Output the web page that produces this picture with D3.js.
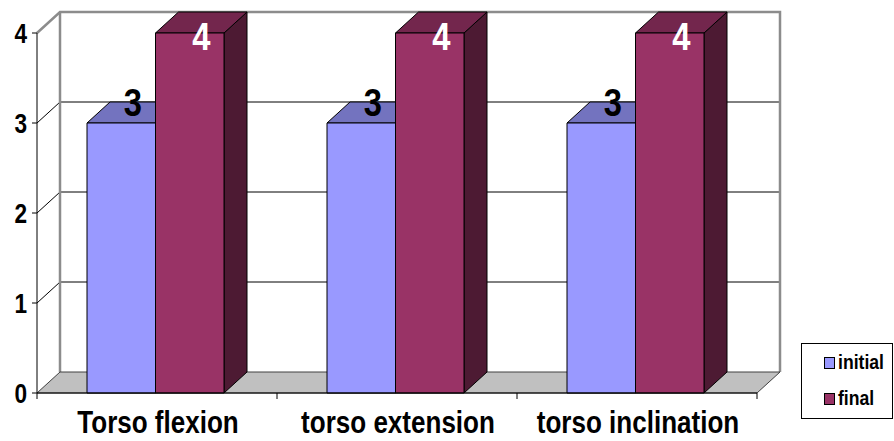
<!DOCTYPE html>
<html>
<head>
<meta charset="utf-8">
<script src="https://cdn.jsdelivr.net/npm/d3@7"></script>
<style>
  html, body { margin: 0; padding: 0; background: #fff; }
  svg { display: block; }
  text { font-family: "Liberation Sans", Arial, sans-serif; font-weight: bold; }
</style>
</head>
<body>
<svg id="chart" width="894" height="441"></svg>
<script>
// Chart data
const categories = ["Torso flexion", "torso extension", "torso inclination"];
const seriesNames = ["initial", "final"];
const initialValues = [3, 3, 3];
const finalValues = [4, 4, 4];
const yTicks = [0, 1, 2, 3, 4];

// Face colours per series: front, top, side
const palette = {
  initial: { front: "#9999FF", top: "#7373BF", side: "#4D4D80" },
  final:   { front: "#993366", top: "#73264D", side: "#4D1A33" }
};

const seriesValues = { initial: initialValues, final: finalValues };

const svg = d3.select("#chart");

// Condensed bold text (horizontal squeeze gives a narrow face)
const NARROW = 0.84;
function label(parent, px, py, str, size, anchor, fill) {
  return parent.append("text")
    .attr("transform", `translate(${px},${py}) scale(${NARROW},1)`)
    .attr("text-anchor", anchor)
    .attr("font-size", size)
    .attr("fill", fill || "#000")
    .text(str);
}

// 3D depth offset for the back plane
const dx = 23, dy = -21;

const x = d3.scaleBand().domain(categories).range([37, 757]);
const xs = d3.scaleBand().domain(seriesNames).range([50, 187]);
const y = d3.scaleLinear().domain([0, 4]).range([393, 33]);

const x0 = x.range()[0], x1 = x.range()[1];
const yb = v => y(v) + dy;           // back-plane y
const line = d3.line();

// Back wall
svg.append("rect")
  .attr("x", x0 + dx).attr("y", yb(4))
  .attr("width", x1 - x0).attr("height", y(0) - y(4))
  .attr("fill", "#fff");

// Gridlines on back wall and side wall
yTicks.filter(v => v > 0 && v < 4).forEach(v => {
  svg.append("path")
    .attr("d", line([[x0, y(v)], [x0 + dx, yb(v)], [x1 + dx, yb(v)]]))
    .attr("fill", "none").attr("stroke", "#000").attr("stroke-width", 1);
});

// Wall frame
svg.append("path")
  .attr("d", line([[x0, y(4)], [x0 + dx, yb(4)], [x1 + dx, yb(4)], [x1 + dx, yb(0)]]))
  .attr("fill", "none").attr("stroke", "#8c8c8c").attr("stroke-width", 2.5);
svg.append("path")
  .attr("d", line([[x0 + dx, yb(4)], [x0 + dx, yb(0)]]))
  .attr("fill", "none").attr("stroke", "#8c8c8c").attr("stroke-width", 2.5);

// Floor
svg.append("path")
  .attr("d", line([[x0, y(0)], [x1, y(0)], [x1 + dx, yb(0)], [x0 + dx, yb(0)]]) + "Z")
  .attr("fill", "#C0C0C0").attr("stroke", "#404040").attr("stroke-width", 1);

// Bars
categories.forEach((cat, i) => {
  seriesNames.forEach(s => {
    const v = seriesValues[s][i];
    const bx = x(cat) + xs(s), bw = xs.bandwidth();
    const top = y(v), base = y(0);
    const c = palette[s];
    const g = svg.append("g").attr("stroke", "#000").attr("stroke-width", 1).attr("stroke-linejoin", "round");
    g.append("path")
      .attr("d", line([[bx + bw, top], [bx + bw + dx, top + dy], [bx + bw + dx, base + dy], [bx + bw, base]]) + "Z")
      .attr("fill", c.side);
    g.append("path")
      .attr("d", line([[bx, top], [bx + dx, top + dy], [bx + bw + dx, top + dy], [bx + bw, top]]) + "Z")
      .attr("fill", c.top);
    g.append("rect")
      .attr("x", bx).attr("y", top).attr("width", bw).attr("height", base - top)
      .attr("fill", c.front);
  });
});

// Data labels (pushed inside the bar, in white, when there is no room above)
categories.forEach((cat, i) => {
  seriesNames.forEach(s => {
    const v = seriesValues[s][i];
    const cx = x(cat) + xs(s) + xs.bandwidth() / 2 + dx / 2;
    let base = y(v) - 7;
    const minBase = 50;
    const inside = base < minBase;
    if (inside) base = minBase;
    label(svg, cx, base, v, 39, "middle", inside ? "#fff" : "#000");
  });
});

// Value axis
svg.append("path")
  .attr("d", line([[x0, y(0)], [x0, y(4)]]))
  .attr("stroke", "#000").attr("fill", "none");
yTicks.forEach(v => {
  svg.append("path")
    .attr("d", line([[x0 - 5, y(v)], [x0, y(v)]]))
    .attr("stroke", "#000");
  label(svg, 27, y(v) + 10, v, 27, "end");
});

// Category axis
svg.append("path")
  .attr("d", line([[x0, y(0)], [x1, y(0)]]))
  .attr("stroke", "#000").attr("fill", "none");
[x0, ...categories.map(c => x(c) + x.bandwidth())].forEach(px => {
  svg.append("path")
    .attr("d", line([[px, y(0)], [px, y(0) + 6]]))
    .attr("stroke", "#000");
});
categories.forEach(cat => {
  label(svg, x(cat) + x.bandwidth() / 2 + 1, 433, cat, 31, "middle");
});

// Legend
const legend = svg.append("g");
legend.append("rect")
  .attr("x", 801.5).attr("y", 343.5).attr("width", 91).attr("height", 75)
  .attr("fill", "#fff").attr("stroke", "#000");
seriesNames.forEach((s, k) => {
  const ly = 357 + k * 36;
  legend.append("rect")
    .attr("x", 824.5).attr("y", ly + 0.5).attr("width", 10).attr("height", 11)
    .attr("fill", palette[s].front).attr("stroke", "#000");
  label(legend, 838, ly + 12, s, 21, "start");
});
</script>
</body>
</html>
